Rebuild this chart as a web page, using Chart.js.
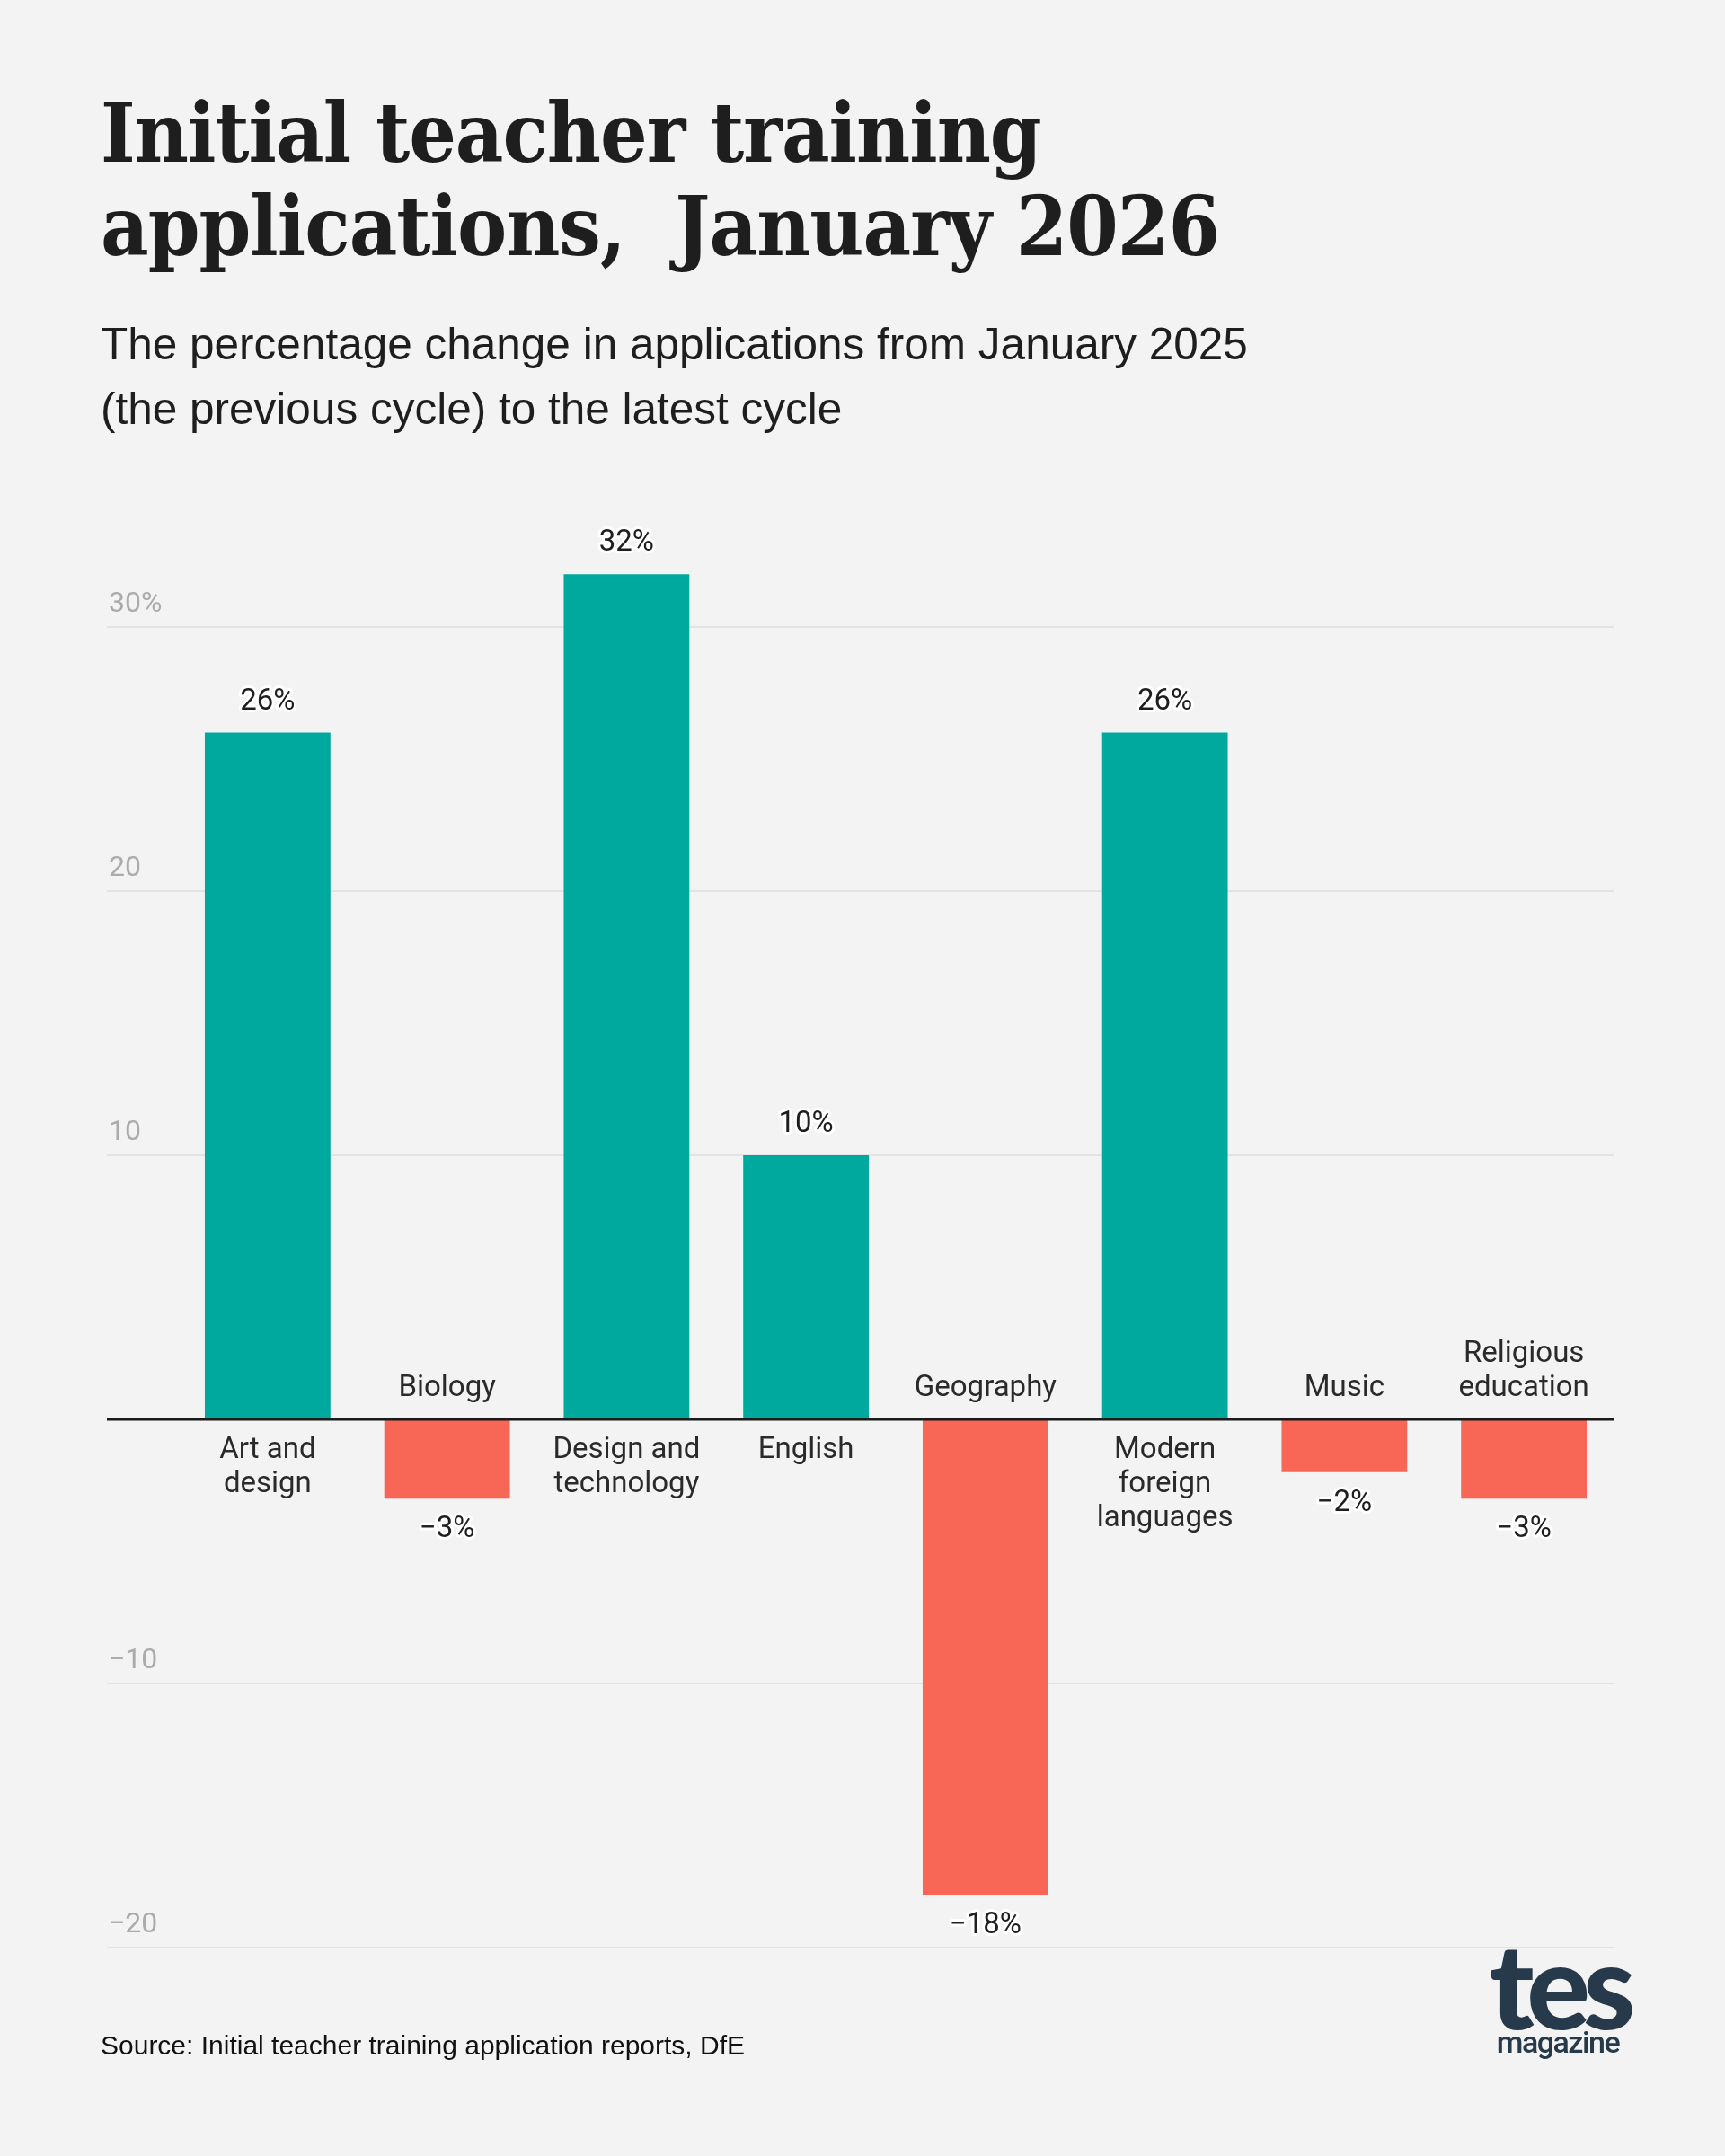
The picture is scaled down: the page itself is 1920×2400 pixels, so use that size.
<!DOCTYPE html>
<html>
<head>
<meta charset="utf-8">
<script src="https://cdn.jsdelivr.net/npm/chart.js@4.4.1/dist/chart.umd.min.js"></script>
<style>
  html, body { margin: 0; padding: 0; background: #f3f3f3; }
  #page { position: relative; width: 1920px; height: 2400px; overflow: hidden; }
  #chart { position: absolute; left: 0; top: 0; }
  .title { position: absolute; left: 112px; top: 96px; margin: 0;
    font-family: "DejaVu Serif Condensed", "DejaVu Serif", serif; font-stretch: condensed;
    font-weight: bold; font-size: 92px;
    line-height: 104px; color: #1e1e1e; letter-spacing: -1px; }
  .subtitle { position: absolute; left: 112px; top: 347px; margin: 0;
    font-family: "Liberation Sans", Arial, sans-serif; font-size: 49.5px;
    line-height: 72px; color: #1e1e1e; }
  .source { position: absolute; left: 112px; top: 2260px;
    font-family: "Liberation Sans", Arial, sans-serif; font-size: 30px; color: #111; }
  .logo { position: absolute; left: 1658px; top: 2160px; color: #263a4c; text-align: center; width: 152px; }
  .logo .tes { font-family: Lato, sans-serif; font-weight: 900; font-size: 132px;
    line-height: 96px; letter-spacing: -8px; }
  .logo .mag { font-family: Roboto, sans-serif; font-weight: 500; font-size: 34px;
    line-height: 34px; letter-spacing: -1.5px; }
</style>
</head>
<body>
<div id="page">
  <canvas id="chart" width="1920" height="2400"></canvas>
  <h1 class="title">Initial teacher training<br>applications,&nbsp; January 2026</h1>
  <p class="subtitle">The percentage change in applications from January 2025<br>(the previous cycle) to the latest cycle</p>
  <div class="source">Source: Initial teacher training application reports, DfE</div>
  <div class="logo"><div class="tes">tes</div><div class="mag">magazine</div></div>
</div>
<script>
const subjects = [
  ["Art and", "design"],
  ["Biology"],
  ["Design and", "technology"],
  ["English"],
  ["Geography"],
  ["Modern", "foreign", "languages"],
  ["Music"],
  ["Religious", "education"]
];
const changeValues = [26, -3, 32, 10, -18, 26, -2, -3];
const yTicks = [-20, -10, 0, 10, 20, 30];
const tickLabels = ["\u221220", "\u221210", "", "10", "20", "30%"];

const TEAL = "#00a99d";
const CORAL = "#f86656";

function fmtPct(v) {
  return (v < 0 ? "\u2212" + Math.abs(v) : String(v)) + "%";
}

// gridlines and y labels run further left than the bars
const gridPlugin = {
  id: "gridPlugin",
  beforeDatasetsDraw(chart) {
    const ctx = chart.ctx;
    const y = chart.scales.y;
    const left = 119, right = chart.chartArea.right;
    ctx.save();
    yTicks.forEach((t, i) => {
      if (t === 0) return;
      const py = Math.round(y.getPixelForValue(t));
      ctx.strokeStyle = "#e3e3e3";
      ctx.lineWidth = 2;
      ctx.beginPath();
      ctx.moveTo(left, py);
      ctx.lineTo(right, py);
      ctx.stroke();
      ctx.fillStyle = "#ababab";
      ctx.font = "32px Roboto";
      ctx.textAlign = "left";
      ctx.textBaseline = "middle";
      ctx.fillText(tickLabels[i], 121, py - 25);
    });
    ctx.restore();
  },
  afterDatasetsDraw(chart) {
    const ctx = chart.ctx;
    const y = chart.scales.y;
    const zero = y.getPixelForValue(0);
    ctx.save();
    ctx.strokeStyle = "#1a1a1a";
    ctx.lineWidth = 3;
    ctx.beginPath();
    ctx.moveTo(119, zero);
    ctx.lineTo(chart.chartArea.right, zero);
    ctx.stroke();

    const meta = chart.getDatasetMeta(0);
    const lineH = 38;
    ctx.textAlign = "center";
    ctx.textBaseline = "middle";
    meta.data.forEach((bar, i) => {
      const v = changeValues[i];
      const lines = subjects[i];
      ctx.font = "33px Roboto";
      ctx.fillStyle = "#2a2a2a";
      lines.forEach((ln, k) => {
        let ly;
        if (v >= 0) ly = zero + 35 + k * lineH;
        else ly = zero - 34 - (lines.length - 1 - k) * lineH;
        ctx.fillText(ln, bar.x, ly);
      });
      // value label with white halo
      const txt = fmtPct(v);
      const vy = v >= 0 ? bar.y - 34 : bar.y + 35;
      ctx.font = "33px Roboto";
      ctx.lineWidth = 6;
      ctx.lineJoin = "round";
      ctx.strokeStyle = "#ffffff";
      ctx.strokeText(txt, bar.x, vy);
      ctx.fillStyle = "#1e1e1e";
      ctx.fillText(txt, bar.x, vy);
    });
    ctx.restore();
  }
};

function draw() {
  new Chart(document.getElementById("chart"), {
    type: "bar",
    data: {
      labels: subjects.map(s => s.join(" ")),
      datasets: [{
        data: changeValues,
        backgroundColor: changeValues.map(v => v >= 0 ? TEAL : CORAL),
        borderWidth: 0,
        barPercentage: 0.7,
        categoryPercentage: 1.0
      }]
    },
    options: {
      responsive: false,
      animation: false,
      devicePixelRatio: 1,
      layout: { padding: { left: 198, right: 124, top: 551, bottom: 232 } },
      plugins: { legend: { display: false }, tooltip: { enabled: false } },
      scales: {
        x: { display: false },
        y: { display: false, min: -20, max: 35 }
      }
    },
    plugins: [gridPlugin]
  });
}

if (document.fonts && document.fonts.load) {
  Promise.all([document.fonts.load("30px Roboto"), document.fonts.load("900 100px Lato")])
    .then(draw, draw);
} else {
  draw();
}
</script>
</body>
</html>
